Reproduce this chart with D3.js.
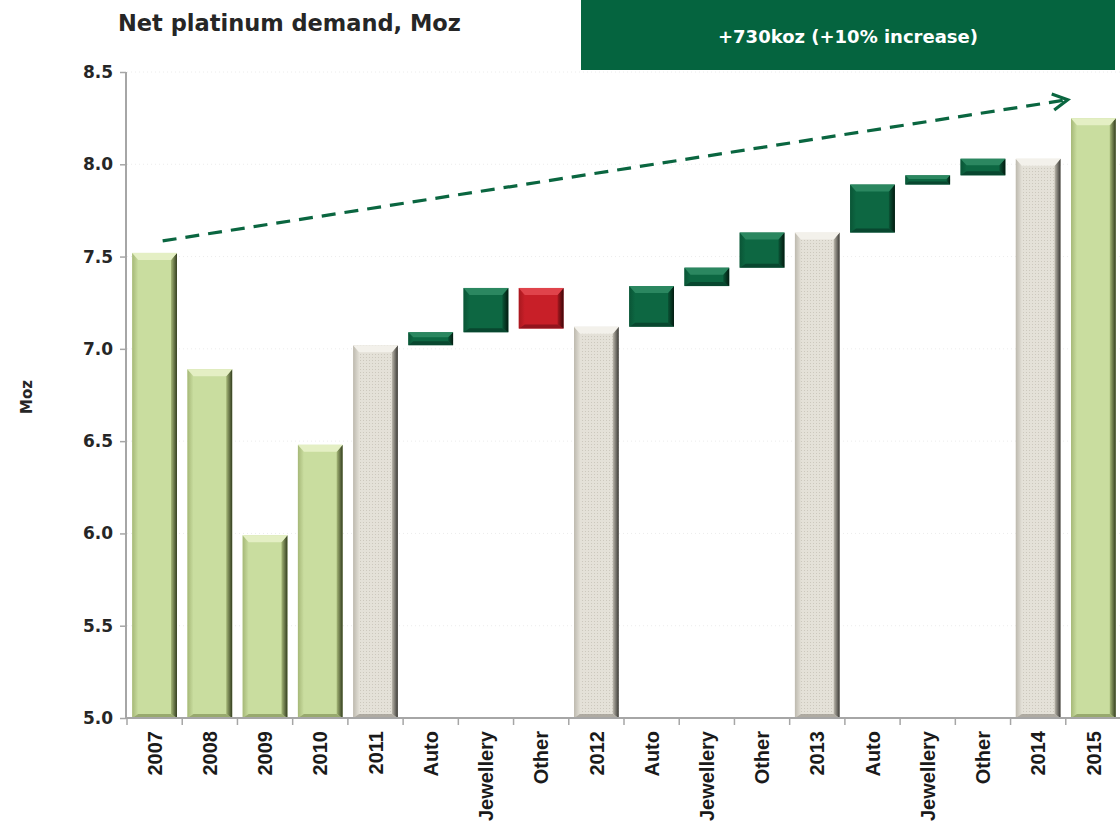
<!DOCTYPE html>
<html>
<head>
<meta charset="utf-8">
<script src="https://cdn.jsdelivr.net/npm/d3@7"></script>
<style>
  html, body { margin: 0; padding: 0; background: #fff; }
  svg { display: block; }
</style>
</head>
<body>
<svg id="chart" width="1120" height="822"></svg>
<script>
const categories = ["2007","2008","2009","2010","2011","Auto","Jewellery","Other","2012","Auto","Jewellery","Other","2013","Auto","Jewellery","Other","2014","2015"];
const startValues = [5.00,5.00,5.00,5.00,5.00,7.02,7.09,7.33,5.00,7.12,7.34,7.44,5.00,7.63,7.89,7.94,5.00,5.00];
const endValues   = [7.52,6.89,5.99,6.48,7.02,7.09,7.33,7.11,7.12,7.34,7.44,7.63,7.63,7.89,7.94,8.03,8.03,8.25];
const barKinds    = ["year","year","year","year","base","up","up","down","base","up","up","up","base","up","up","up","base","year"];
const yTicks = [5.0,5.5,6.0,6.5,7.0,7.5,8.0,8.5];
const titleText = "Net platinum demand, Moz";
const yAxisLabel = "Moz";
const calloutText = "+730koz (+10% increase)";
const arrowFrom = {cat: 0, value: 7.585};
const arrowTo = {cat: 17, value: 8.35};

const svg = d3.select("#chart");
const keys = categories.map((c, i) => i);
const x = d3.scaleBand().domain(keys).range([127, 1121]).paddingInner(0.19).paddingOuter(0.095);
const y = d3.scaleLinear().domain([5.0, 8.5]).range([718, 72]);

const palette = {
  year: {base: "#c9dd9f", light: "#e4efc4", mid: "#a6b878", dark: "#333d1f", bottom: "#8c9c62"},
  base: {base: "#e2dfd6", light: "#f3f1eb", mid: "#bdb9ae", dark: "#3a3935", bottom: "#a19e95"},
  up:   {base: "#0d6742", light: "#2b8760", mid: "#0a5536", dark: "#031a10", bottom: "#07402a"},
  down: {base: "#c81f28", light: "#e0434b", mid: "#a8181f", dark: "#3c0709", bottom: "#85121a"}
};

const defs = svg.append("defs");
const pat = defs.append("pattern").attr("id", "dots").attr("width", 3).attr("height", 3).attr("patternUnits", "userSpaceOnUse");
pat.append("rect").attr("width", 3).attr("height", 3).attr("fill", "#e4e1d8");
pat.append("rect").attr("width", 1).attr("height", 1).attr("fill", "#ccc8bd");

Object.entries(palette).forEach(([k, p]) => {
  const gr = defs.append("linearGradient").attr("id", "right-" + k).attr("x1", 0).attr("x2", 1).attr("y1", 0).attr("y2", 0);
  gr.append("stop").attr("offset", "0%").attr("stop-color", p.mid);
  gr.append("stop").attr("offset", "100%").attr("stop-color", p.dark);
  const gl = defs.append("linearGradient").attr("id", "left-" + k).attr("x1", 0).attr("x2", 1).attr("y1", 0).attr("y2", 0);
  gl.append("stop").attr("offset", "0%").attr("stop-color", p.mid);
  gl.append("stop").attr("offset", "100%").attr("stop-color", p.base);
});

// gridlines
svg.append("g").selectAll("line").data(yTicks.slice(1)).join("line")
  .attr("x1", 127).attr("x2", 1120)
  .attr("y1", d => y(d)).attr("y2", d => y(d))
  .attr("stroke", "#ececec").attr("stroke-width", 1).attr("stroke-dasharray", "1,3");

// bars
const bars = svg.append("g");
keys.forEach(i => {
  const kind = barKinds[i];
  const p = palette[kind];
  const x0 = x(i), w = x.bandwidth();
  const yTop = y(Math.max(startValues[i], endValues[i]));
  const yBot = y(Math.min(startValues[i], endValues[i]));
  const h = yBot - yTop;
  const bt = Math.min(7, h / 2.6), bs = Math.min(6, h / 2.6), bb = Math.min(4, h / 3);
  const g = bars.append("g");
  g.append("rect").attr("x", x0).attr("y", yTop).attr("width", w).attr("height", h)
    .attr("fill", kind === "base" ? "url(#dots)" : p.base);
  // left bevel
  g.append("polygon").attr("points", [[x0, yTop],[x0 + bs, yTop + bt],[x0 + bs, yBot - bb],[x0, yBot]].join(" "))
    .attr("fill", "url(#left-" + kind + ")");
  // bottom bevel
  g.append("polygon").attr("points", [[x0, yBot],[x0 + bs, yBot - bb],[x0 + w - bs, yBot - bb],[x0 + w, yBot]].join(" "))
    .attr("fill", p.bottom).attr("opacity", 0.8);
  // right bevel
  g.append("polygon").attr("points", [[x0 + w, yTop],[x0 + w, yBot],[x0 + w - bs, yBot - bb],[x0 + w - bs, yTop + bt]].join(" "))
    .attr("fill", "url(#right-" + kind + ")");
  // top bevel
  g.append("polygon").attr("points", [[x0, yTop],[x0 + w, yTop],[x0 + w - bs, yTop + bt],[x0 + bs, yTop + bt]].join(" "))
    .attr("fill", p.light);
});

// axes
const axisColor = "#a6a6a6";
const yAxis = svg.append("g").attr("transform", "translate(126,0)")
  .call(d3.axisLeft(y).tickValues(yTicks).tickFormat(d3.format(".1f")).tickSize(6).tickPadding(7));
yAxis.select(".domain").attr("stroke", axisColor).attr("stroke-width", 2).attr("d", "M0,72V718");
yAxis.selectAll(".tick line").attr("stroke", axisColor).attr("stroke-width", 1.5);
yAxis.selectAll(".tick text").attr("fill", "#262626")
  .style("font-family", "'DejaVu Sans', sans-serif").style("font-weight", "bold").style("font-size", "17px");

const xAxis = svg.append("g").attr("transform", "translate(0,718)")
  .call(d3.axisBottom(x).tickFormat(i => categories[i]).tickSize(0).tickPadding(0));
xAxis.select(".domain").attr("stroke", axisColor).attr("stroke-width", 2).attr("d", "M126,0H1120");
xAxis.selectAll(".tick text")
  .attr("transform", "rotate(-90)")
  .attr("x", -13).attr("y", 0).attr("dy", "0.36em")
  .attr("text-anchor", "end").attr("fill", "#1a1a1a")
  .style("font-family", "'Liberation Sans', Arial, sans-serif").style("font-weight", "bold").style("font-size", "20px");
// boundary ticks
const step = x.step();
svg.append("g").selectAll("line").data(d3.range(categories.length + 1)).join("line")
  .attr("x1", d => 127 + d * step).attr("x2", d => 127 + d * step)
  .attr("y1", 718).attr("y2", 725)
  .attr("stroke", axisColor).attr("stroke-width", 1.5);

// title
svg.append("text").attr("x", 118).attr("y", 31).text(titleText)
  .attr("fill", "#262626").style("font-family", "'DejaVu Sans', sans-serif")
  .style("font-weight", "bold").style("font-size", "22.5px");

// y axis label
svg.append("text").attr("transform", "translate(32,397) rotate(-90)")
  .attr("text-anchor", "middle").text(yAxisLabel)
  .attr("fill", "#262626").style("font-family", "'DejaVu Sans', sans-serif")
  .style("font-weight", "bold").style("font-size", "15px");

// callout box
svg.append("rect").attr("x", 581).attr("y", 0).attr("width", 534).attr("height", 70).attr("fill", "#05643f");
svg.append("text").attr("x", 848).attr("y", 37).attr("dy", "0.36em").attr("text-anchor", "middle")
  .text(calloutText).attr("fill", "#ffffff").style("font-family", "'DejaVu Sans', sans-serif")
  .style("font-weight", "bold").style("font-size", "18px");

// dashed arrow
const ax1 = x(arrowFrom.cat) + x.bandwidth() * 0.68, ay1 = y(arrowFrom.value);
const ax2 = x(arrowTo.cat) - step * 0.06, ay2 = y(arrowTo.value);
const arrowColor = "#0a6640";
svg.append("line").attr("x1", ax1).attr("y1", ay1).attr("x2", ax2).attr("y2", ay2)
  .attr("stroke", arrowColor).attr("stroke-width", 3.2).attr("stroke-dasharray", "14,9");
const ang = Math.atan2(ay2 - ay1, ax2 - ax1);
const hl = 17, ha = 0.5;
svg.append("path")
  .attr("d", `M${ax2 - hl * Math.cos(ang - ha)},${ay2 - hl * Math.sin(ang - ha)}L${ax2},${ay2}L${ax2 - hl * Math.cos(ang + ha)},${ay2 - hl * Math.sin(ang + ha)}`)
  .attr("fill", "none").attr("stroke", arrowColor).attr("stroke-width", 3.2);
</script>
</body>
</html>
